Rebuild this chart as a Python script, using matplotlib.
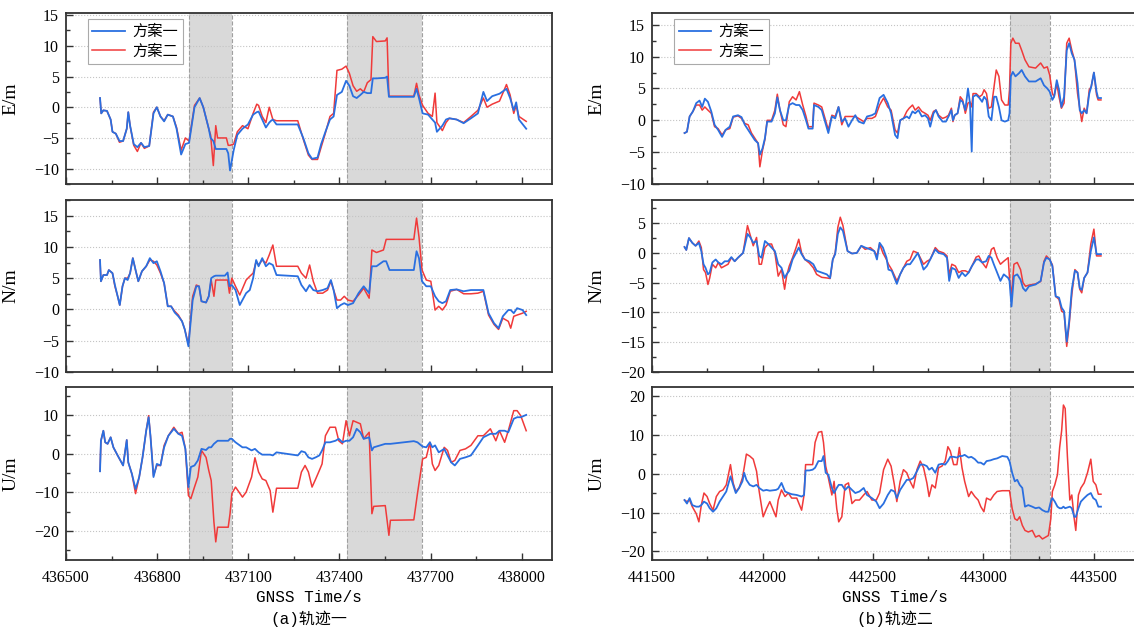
import numpy as np
import matplotlib
matplotlib.use("Agg")
import matplotlib.pyplot as plt
from matplotlib.ticker import MultipleLocator

plt.rcParams['font.family'] = ['Liberation Serif', 'Noto Sans CJK SC']

# ---------------- data: trajectory 1 ----------------
t1_E = [436612, 436616, 436623, 436635, 436647, 436653, 436664, 436676, 436688, 436700,
        436705, 436711, 436723, 436735, 436747, 436758, 436774, 436788, 436799, 436811,
        436823, 436835, 436852, 436864, 436879, 436893, 436905, 436923, 436940, 436952,
        436970, 436976, 436985, 436993, 436999, 437028, 437034, 437040, 437052, 437064,
        437081, 437099, 437116, 437128, 437134, 437146, 437158, 437169, 437175, 437181,
        437193, 437263, 437281, 437298, 437310, 437328, 437340, 437354, 437369, 437381,
        437392, 437408, 437422, 437433, 437445, 437457, 437469, 437480, 437492, 437504,
        437510, 437522, 437551, 437557, 437563, 437645, 437654, 437662, 437674, 437692,
        437706, 437715, 437721, 437739, 437751, 437762, 437786, 437809, 437833, 437856,
        437874, 437886, 437903, 437927, 437950, 437962, 437974, 437982, 437991, 438015]
e1_a = [1.5, -1.0, -0.5, -0.6, -2.0, -4.0, -4.3, -5.5, -5.5, -3.5,
        -0.8, -3.0, -6.0, -6.5, -5.8, -6.5, -6.3, -1.0, 0.0, -1.5,
        -2.3, -1.2, -1.5, -3.5, -7.7, -6.0, -5.8, 0.0, 1.5, 0.0,
        -3.5, -5.0, -5.5, -6.8, -6.8, -6.8, -7.5, -10.3, -7.0, -4.5,
        -3.5, -2.8, -1.2, -0.8, -0.7, -2.0, -3.3, -2.5, -2.2, -2.0,
        -2.8, -2.8, -5.0, -7.5, -8.4, -8.2, -6.0, -4.0, -2.0, -1.5,
        2.0, 2.5, 4.3, 3.5, 1.8, 1.5, 2.0, 2.5, 2.3, 2.3,
        4.7, 4.7, 4.8, 5.0, 1.7, 1.7, 3.0, 1.5, -1.0, -1.2,
        -2.0, -2.5, -4.0, -3.0, -2.0, -1.8, -2.0, -2.6, -1.8, -1.0,
        2.5, 1.0, 1.8, 2.2, 3.0, 1.5, -0.5, 0.8, -2.0, -3.5]
e1_b = [1.5, -1.0, -0.5, -0.6, -2.0, -4.0, -4.3, -5.7, -5.5, -3.5,
        -0.8, -3.0, -6.2, -7.2, -5.8, -6.7, -6.3, -0.8, 0.0, -1.5,
        -2.2, -1.2, -1.5, -3.3, -7.0, -5.0, -5.5, 0.3, 1.5, 0.0,
        -3.5, -4.5, -9.5, -3.0, -5.0, -5.0, -6.2, -6.2, -6.0, -4.0,
        -3.0, -3.5, -1.0, 0.5, 0.3, -1.5, -2.5, 0.0, -1.0, -2.0,
        -2.2, -2.2, -5.2, -7.8, -8.5, -8.5, -6.5, -4.2, -1.5, -1.0,
        6.0, 6.2, 6.7, 5.5, 3.5, 2.6, 3.0, 2.5, 4.0, 4.5,
        11.5, 10.7, 10.8, 11.3, 1.8, 1.8, 3.9, 2.0, 0.3, -1.0,
        -1.5, 2.3, -2.5, -3.8, -2.5, -1.8, -2.0, -2.5, -1.5, -0.5,
        1.5, 0.0, 0.5, 1.0, 3.7, 2.0, -1.0, 0.3, -1.5, -2.3]

t1_N = [436612, 436615, 436623, 436635, 436641, 436653, 436661, 436670, 436677, 436686,
        436694, 436703, 436711, 436720, 436729, 436738, 436750, 436764, 436776, 436788,
        436799, 436811, 436823, 436835, 436846, 436858, 436870, 436882, 436891, 436903,
        436909, 436917, 436929, 436938, 436946, 436961, 436970, 436978, 436987, 436993,
        437023, 437032, 437038, 437046, 437058, 437072, 437093, 437105, 437116, 437126,
        437134, 437146, 437158, 437169, 437181, 437193, 437263, 437275, 437290, 437302,
        437314, 437328, 437345, 437361, 437372, 437381, 437392, 437404, 437416, 437428,
        437445, 437463, 437480, 437498, 437507, 437522, 437545, 437554, 437565, 437645,
        437654, 437662, 437672, 437686, 437701, 437715, 437727, 437739, 437751, 437765,
        437786, 437809, 437833, 437856, 437874, 437891, 437909, 437924, 437938, 437956,
        437964, 437974, 437985, 438003, 438015]
n1_a = [7.9, 4.5, 5.5, 5.5, 6.3, 5.8, 3.9, 2.1, 0.7, 3.7,
        5.0, 4.7, 5.8, 8.2, 6.3, 4.5, 6.1, 6.9, 8.2, 7.4,
        7.7, 6.1, 4.2, 0.5, 0.5, -0.5, -1.1, -1.9, -3.2, -5.9,
        -2.7, 1.5, 3.7, 3.7, 1.3, 1.1, 2.1, 5.0, 5.3, 5.4,
        5.4, 5.9, 3.7, 3.9, 3.1, 0.7, 2.6, 3.1, 5.0, 7.9,
        6.9, 8.2, 6.9, 7.4, 7.1, 5.5, 5.3, 3.9, 2.9, 3.9,
        3.1, 2.9, 3.1, 3.4, 4.7, 3.1, 0.2, 0.7, 1.0, 0.7,
        1.0, 2.6, 3.7, 2.6, 6.9, 6.9, 7.7, 7.7, 6.3, 6.3,
        9.3, 8.2, 4.5, 3.7, 3.7, 2.1, 1.3, 1.0, 1.3, 3.1,
        3.2, 2.9, 3.1, 3.1, 3.1, -0.6, -2.2, -3.0, -1.1, -0.1,
        -0.1, -0.6, 0.2, -0.1, -0.9]
n1_b = [7.9, 4.5, 5.5, 5.5, 6.3, 5.8, 3.7, 2.1, 0.7, 3.7,
        5.0, 5.0, 5.8, 8.2, 6.3, 4.5, 6.1, 6.9, 7.9, 7.7,
        7.1, 5.8, 4.2, 0.5, 0.5, -0.3, -0.9, -1.9, -3.2, -5.6,
        -2.2, 2.1, 3.9, 3.7, 1.3, 1.1, 2.1, 4.7, 2.1, 4.7,
        4.7, 4.7, 2.6, 5.0, 3.7, 2.3, 4.7, 5.3, 5.8, 7.7,
        7.1, 7.9, 7.4, 8.7, 10.3, 6.9, 6.9, 5.8, 5.0, 7.1,
        4.5, 2.6, 2.6, 3.1, 4.5, 3.1, 1.5, 1.5, 2.1, 1.5,
        1.3, 2.3, 3.4, 1.8, 9.5, 9.1, 9.5, 11.2, 11.2, 11.2,
        14.6, 11.6, 6.3, 4.7, 4.5, -0.1, 0.5, -0.1, 0.7, 2.9,
        3.2, 2.5, 2.5, 2.6, 2.9, -0.9, -2.4, -3.2, -1.4, -1.9,
        -3.0, -1.1, -0.9, -0.6, -0.3]

t1_U = [436612, 436615, 436623, 436629, 436637, 436647, 436656, 436670, 436688, 436700,
        436705, 436717, 436729, 436741, 436752, 436764, 436772, 436778, 436788, 436799,
        436811, 436823, 436837, 436855, 436870, 436882, 436893, 436903, 436911, 436923,
        436934, 436946, 436961, 436970, 436978, 436987, 436993, 436999, 437034, 437040,
        437046, 437058, 437081, 437093, 437111, 437122, 437134, 437146, 437158, 437172,
        437181, 437193, 437263, 437275, 437287, 437298, 437310, 437322, 437334, 437343,
        437354, 437369, 437387, 437398, 437410, 437422, 437433, 437445, 437457, 437469,
        437480, 437498, 437507, 437513, 437551, 437557, 437563, 437568, 437645, 437657,
        437674, 437686, 437698, 437706, 437715, 437727, 437745, 437756, 437768, 437780,
        437797, 437815, 437833, 437856, 437874, 437897, 437915, 437927, 437944, 437956,
        437974, 437985, 437997, 438015]
u1_a = [-4.5, 3.4, 6.0, 3.0, 2.6, 4.3, 1.7, -0.4, -3.0, 3.6,
        -2.2, -5.2, -9.1, -6.0, -0.9, 6.0, 9.5, 4.7, -6.0, -2.6,
        -3.0, 1.7, 4.7, 6.5, 5.2, 4.7, 1.3, -8.6, -3.4, -3.0,
        -1.7, 1.3, 1.0, 1.7, 1.7, 2.6, 3.0, 3.4, 3.4, 3.9,
        3.9, 3.0, 1.7, 1.7, 0.9, 1.3, 0.4, -0.2, -0.2, -0.2,
        -0.4, 0.4, -0.4, 0.7, 0.4, -0.9, -1.3, -0.9, -0.4, 0.9,
        3.0, 3.0, 3.4, 3.9, 3.0, 3.4, 3.4, 4.3, 6.5, 5.6,
        3.9, 4.3, 0.9, 1.7, 2.6, 2.6, 2.6, 2.6, 3.3, 3.0,
        1.9, 1.7, 3.0, 1.7, 2.2, 0.4, 1.3, -0.4, -2.2, -3.0,
        -1.3, -0.9, -0.4, 2.2, 4.3, 5.2, 5.2, 6.0, 6.0, 5.6,
        9.1, 9.5, 9.5, 10.1]
u1_b = [-4.5, 3.4, 6.0, 3.0, 2.6, 4.3, 1.7, -0.4, -3.0, 3.6,
        -2.2, -5.2, -10.3, -6.0, -0.9, 6.0, 9.9, 4.7, -5.6, -3.0,
        -3.0, 2.2, 4.7, 6.9, 5.2, 5.6, 1.3, -10.8, -11.6, -8.6,
        -6.0, 0.9, -0.9, -4.3, -6.9, -17.7, -22.8, -19.0, -19.0, -15.5,
        -10.3, -8.6, -11.2, -9.9, -6.0, -1.0, -4.7, -6.5, -6.9, -9.5,
        -15.1, -8.9, -8.9, -4.7, -3.0, -4.7, -8.6, -6.5, -4.3, -2.6,
        4.7, 6.9, 6.9, 3.4, 2.6, 8.6, 4.7, 8.6, 8.2, 7.8,
        3.9, 5.6, -15.5, -13.6, -13.4, -17.2, -21.1, -17.2, -17.1, -10.3,
        -1.3, -0.9, 3.0, -2.6, -4.3, -3.0, 1.7, 0.9, -2.2, -1.7,
        0.9, 1.3, 2.2, 4.7, 4.7, 6.5, 3.4, 6.0, 3.0, 6.0,
        11.2, 11.2, 9.9, 6.0]

# ---------------- data: trajectory 2 ----------------
t2_E = [441647, 441658, 441670, 441685, 441700, 441715, 441727, 441739, 441753, 441768,
        441783, 441799, 441817, 441833, 441852, 441867, 441889, 441905, 441920, 441935,
        441950, 441965, 441980, 441988, 442000, 442011, 442021, 442041, 442056, 442067,
        442079, 442094, 442106, 442121, 442136, 442152, 442167, 442182, 442197, 442208,
        442227, 442233, 442253, 442268, 442283, 442298, 442314, 442329, 442344, 442359,
        442374, 442389, 442405, 442420, 442435, 442458, 442473, 442495, 442511, 442530,
        442548, 442567, 442582, 442600, 442611, 442623, 442638, 442653, 442664, 442679,
        442691, 442706, 442721, 442736, 442749, 442759, 442774, 442785, 442797, 442815,
        442830, 442842, 442855, 442862, 442870, 442883, 442895, 442906, 442918, 442930,
        442939, 442947, 442953, 442967, 442982, 442994, 443003, 443014, 443024, 443036,
        443048, 443058, 443070, 443082, 443097, 443112, 443118, 443124, 443133, 443145,
        443161, 443173, 443188, 443206, 443236, 443259, 443274, 443289, 443300, 443312,
        443320, 443332, 443342, 443353, 443365, 443377, 443388, 443400, 443412, 443426,
        443436, 443445, 443456, 443467, 443479, 443488, 443500, 443512, 443519, 443532]
e2_a = [-2.0, -1.8, 0.6, 1.4, 2.7, 3.1, 2.1, 3.4, 2.9, 1.4,
        -0.7, -1.5, -2.6, -1.5, -1.0, 0.6, 0.8, 0.5, -0.7, -1.5,
        -2.3, -3.1, -3.6, -5.4, -4.4, -2.8, -0.2, -0.2, 1.1, 3.6,
        1.6, 0.0, 0.0, 2.4, 2.7, 2.4, 2.4, 1.6, 0.0, -1.3,
        -1.3, 2.4, 2.1, 1.6, -0.2, -2.0, 0.6, 0.3, 2.1, -0.2,
        0.3, -1.0, 0.0, 0.8, -0.2, -0.5, 0.6, 0.8, 1.1, 3.5,
        4.0, 2.7, 1.1, -2.3, -2.8, 0.0, 0.3, 0.6, 0.3, 1.4,
        1.1, 1.6, 0.6, 0.8, 0.3, -1.0, 1.1, 1.6, 0.6, -0.2,
        -0.2, 0.6, 1.6, 0.0, 0.8, 1.1, 3.2, 2.9, 1.6, 5.0,
        2.7, -4.9, 3.7, 4.0, 3.5, 2.9, 3.7, 3.2, 0.6, 0.0,
        3.7, 3.7, 2.1, 0.0, -0.2, 0.0, 1.1, 6.9, 7.6, 6.9,
        7.4, 7.9, 6.9, 6.1, 6.1, 6.6, 5.5, 5.0, 4.5, 3.2,
        3.7, 6.3, 4.8, 2.1, 3.7, 11.0, 12.1, 10.5, 9.5, 5.8,
        1.6, 1.1, 1.6, 1.1, 4.2, 5.3, 7.5, 4.5, 3.5, 3.5]
e2_b = [-2.0, -1.8, 0.6, 1.4, 2.4, 2.4, 1.6, 2.1, 1.6, 1.1,
        -1.0, -1.3, -2.3, -1.5, -1.3, 0.5, 0.7, 0.3, -0.5, -0.7,
        -2.0, -2.8, -3.6, -7.3, -4.7, -3.0, 0.0, 0.0, 1.6, 4.1,
        1.6, -0.7, -1.0, 2.9, 3.7, 3.2, 4.5, 2.4, 0.6, -1.0,
        -1.0, 2.7, 2.4, 2.1, 0.3, -1.5, 0.8, 0.6, 2.1, -0.7,
        0.6, 0.6, 0.6, 0.6, 0.3, -0.2, 0.3, 0.3, 0.6, 2.4,
        3.5, 2.1, 1.6, -1.5, -2.0, 0.0, 0.3, 1.4, 1.9, 2.4,
        1.6, 2.1, 1.4, 1.1, 0.8, 0.0, 1.4, 1.6, 0.8, 0.3,
        0.5, 0.8, 1.9, -0.2, 0.8, 1.1, 3.7, 3.2, 1.1, 2.7,
        2.9, 2.1, 4.2, 4.2, 3.7, 4.0, 4.8, 4.2, 1.9, 2.1,
        5.3, 7.9, 6.9, 3.2, 2.4, 2.4, 4.8, 12.1, 12.9, 12.1,
        12.1, 11.0, 9.5, 8.4, 8.2, 9.0, 8.2, 8.4, 7.1, 4.2,
        3.7, 5.8, 3.7, 1.9, 2.7, 12.1, 12.9, 11.0, 9.5, 4.2,
        1.9, -0.2, 1.9, 1.1, 4.8, 5.3, 7.5, 4.0, 3.2, 3.2]

t2_N = [441647, 441655, 441667, 441682, 441697, 441712, 441723, 441733, 441742, 441753,
        441761, 441773, 441788, 441800, 441814, 441829, 441844, 441859, 441874, 441889,
        441912, 441932, 441945, 441958, 441973, 441985, 441995, 442011, 442026, 442041,
        442056, 442071, 442086, 442100, 442109, 442121, 442136, 442152, 442164, 442177,
        442192, 442212, 442230, 442245, 442268, 442291, 442306, 442318, 442329, 442341,
        442352, 442364, 442385, 442405, 442427, 442447, 442465, 442488, 442506, 442518,
        442530, 442545, 442561, 442570, 442585, 442608, 442623, 442638, 442653, 442668,
        442683, 442703, 442714, 442729, 442744, 442759, 442782, 442797, 442820, 442835,
        442845, 442857, 442873, 442888, 442903, 442918, 442933, 442948, 442967, 442979,
        442994, 443012, 443024, 443036, 443047, 443062, 443077, 443092, 443112, 443118,
        443127, 443138, 443153, 443168, 443179, 443191, 443206, 443236, 443259, 443274,
        443285, 443300, 443312, 443327, 443342, 443354, 443365, 443377, 443388, 443400,
        443414, 443426, 443436, 443445, 443456, 443471, 443486, 443500, 443512, 443532]
n2_a = [1.0, 0.5, 2.5, 1.7, 1.2, 1.7, 0.3, -1.9, -2.5, -3.6,
        -3.3, -1.6, -1.1, -1.6, -1.9, -1.4, -1.4, -0.7, -1.4, -0.8,
        0.0, 3.2, 2.6, 1.7, 2.0, -0.5, -0.8, 2.0, 1.5, 0.9,
        0.3, -1.9, -2.5, -4.2, -3.6, -3.0, -1.1, 0.0, 0.9, -0.2,
        -1.1, -1.4, -1.9, -3.0, -3.3, -3.6, -4.2, -1.1, -0.2, 3.2,
        4.3, 3.7, 0.3, -0.1, 0.0, 1.2, 0.9, 0.6, 0.3, -1.1,
        1.7, 0.9, -0.8, -2.8, -3.0, -5.2, -3.6, -2.5, -1.9, -1.9,
        -1.1, 0.0, -1.1, -2.8, -2.2, -1.1, 0.6, 0.0, -0.2, -0.8,
        -4.7, -2.5, -2.8, -4.2, -3.3, -3.9, -3.3, -2.2, -1.1, -1.1,
        -1.6, -1.4, -0.5, -0.8, -1.9, -3.3, -4.7, -3.6, -4.2, -4.7,
        -9.0, -3.9, -3.6, -4.5, -5.9, -6.4, -5.6, -5.3, -4.7, -1.6,
        -0.8, -1.1, -2.2, -7.3, -7.5, -9.2, -9.8, -14.9, -11.5, -6.1,
        -3.0, -3.3, -5.9, -6.2, -4.2, -3.3, 0.3, 2.6, -0.2, -0.2]
n2_b = [1.0, 0.5, 2.5, 1.7, 1.2, 2.0, 0.9, -2.8, -3.3, -5.3,
        -4.2, -1.9, -2.5, -1.6, -2.5, -2.2, -1.9, -0.8, -1.4, -0.8,
        0.0, 4.6, 2.9, 1.2, 2.6, -1.9, -1.9, 0.9, 1.5, 1.5,
        0.0, -3.9, -2.8, -6.1, -3.9, -2.2, -0.8, 0.9, 2.3, 0.0,
        -1.1, -1.7, -2.5, -3.6, -4.1, -4.2, -4.3, -1.1, 0.0, 4.3,
        6.0, 4.6, 0.3, -0.1, 0.0, 1.2, 0.6, 0.9, 0.3, -0.5,
        1.5, 0.0, -1.1, -1.9, -2.8, -4.7, -3.6, -2.5, -1.4, -1.1,
        0.3, 0.0, -0.8, -1.9, -1.4, -1.1, 0.9, 0.3, 0.0, -0.5,
        -3.6, -1.9, -2.2, -3.3, -3.0, -3.0, -3.3, -2.2, -0.7, -0.5,
        -1.6, -2.5, -1.1, 0.6, 0.9, -0.8, -1.9, -1.4, -0.8, -4.2,
        -7.3, -1.9, -1.6, -2.8, -5.0, -5.6, -5.4, -5.2, -4.8, -1.4,
        -0.5, -1.1, -2.0, -7.3, -7.8, -9.8, -10.0, -15.7, -12.1, -7.0,
        -2.8, -3.3, -6.1, -6.7, -4.2, -3.3, 1.5, 4.0, -0.5, -0.5]

t2_U = [441647, 441658, 441670, 441682, 441700, 441712, 441723, 441735, 441749, 441761,
        441776, 441791, 441806, 441821, 441836, 441855, 441867, 441879, 441894, 441909,
        441917, 441927, 441942, 441958, 441973, 441985, 442003, 442018, 442033, 442061,
        442071, 442086, 442102, 442117, 442132, 442155, 442177, 442188, 442195, 442212,
        442227, 442238, 442253, 442268, 442276, 442286, 442298, 442314, 442324, 442336,
        442345, 442359, 442374, 442389, 442405, 442420, 442439, 442458, 442473, 442495,
        442515, 442530, 442548, 442567, 442582, 442597, 442608, 442623, 442638, 442653,
        442668, 442683, 442699, 442714, 442729, 442744, 442754, 442767, 442782, 442797,
        442812, 442827, 442839, 442850, 442865, 442880, 442891, 442903, 442915, 442933,
        442945, 442961, 442976, 442988, 443002, 443014, 443032, 443047, 443062, 443085,
        443108, 443118, 443130, 443142, 443153, 443164, 443176, 443188, 443203, 443221,
        443236, 443252, 443267, 443282, 443294, 443305, 443312, 443323, 443335, 443345,
        443354, 443362, 443370, 443380, 443391, 443400, 443411, 443418, 443430, 443441,
        443456, 443471, 443486, 443497, 443509, 443520, 443532]
u2_a = [-6.8, -7.7, -6.3, -8.1, -8.5, -8.5, -8.1, -7.2, -7.7, -8.9,
        -9.8, -8.9, -7.2, -5.9, -4.6, -0.7, -2.9, -5.0, -3.7, -2.0,
        0.2, -1.6, -2.9, -3.3, -2.9, -3.7, -4.4, -4.2, -4.4, -4.2,
        -3.9, -2.4, -4.6, -5.0, -5.3, -5.5, -5.9, -5.5, 0.8, 0.8,
        1.0, 1.5, 3.2, 3.2, 4.5, 0.2, -0.3, -3.7, -5.0, -3.7,
        -2.9, -2.9, -4.2, -3.3, -4.2, -5.0, -4.6, -3.7, -5.5, -6.3,
        -7.2, -8.9, -7.7, -5.5, -4.2, -4.6, -6.3, -4.2, -2.9, -1.6,
        -1.6, -1.1, 0.6, 2.3, 2.3, 1.9, 1.0, 1.5, 0.2, 2.3,
        2.5, 2.3, 3.2, 4.3, 4.3, 4.1, 4.5, 4.5, 4.8, 4.1,
        4.3, 3.7, 2.8, 2.8, 2.3, 3.2, 3.4, 3.7, 3.9, 4.5,
        4.3, 3.2, 0.2, -2.0, -1.6, -2.9, -3.7, -8.5, -8.1, -8.5,
        -8.9, -8.7, -9.4, -9.8, -9.8, -7.2, -6.3, -7.2, -8.5, -8.9,
        -8.9, -8.5, -8.9, -8.7, -8.5, -8.9, -11.1, -11.1, -8.9, -7.2,
        -6.3, -5.5, -5.0, -6.3, -6.8, -8.5, -8.5]
u2_b = [-6.8, -7.2, -6.8, -8.5, -10.3, -12.4, -8.1, -5.0, -5.9, -7.7,
        -9.4, -5.9, -4.6, -4.2, -2.9, 2.3, -2.4, -4.6, -3.7, -1.1,
        1.5, 5.0, 4.5, 3.7, 0.6, -4.6, -11.1, -9.0, -7.2, -11.1,
        -6.8, -4.2, -5.9, -5.0, -6.3, -6.3, -9.4, -5.5, 2.3, 2.3,
        2.3, 8.0, 10.6, 10.8, 8.0, 1.9, -1.1, -5.5, -2.0, -9.0,
        -12.4, -11.1, -2.9, -2.4, -7.7, -6.8, -6.8, -5.5, -4.6, -6.8,
        -6.8, -5.0, 1.0, 3.7, 1.9, -2.9, -7.2, -2.0, 1.0, 0.2,
        -2.0, -3.7, 1.0, 3.2, 1.5, -2.4, -5.9, -2.9, -3.7, 1.5,
        1.9, 3.2, 6.9, 5.8, 2.3, 2.3, 6.7, 1.5, -2.0, -5.9,
        -4.6, -5.9, -6.8, -8.5, -9.8, -6.3, -6.8, -5.5, -4.6, -4.4,
        -4.4, -4.4, -9.0, -11.6, -12.0, -11.1, -13.3, -14.6, -15.0, -14.6,
        -16.3, -15.9, -16.8, -16.3, -15.9, -11.6, -4.6, -2.9, -0.3, 6.7,
        11.0, 17.6, 16.7, 4.5, -6.8, -5.5, -11.6, -14.6, -5.5, -3.7,
        -2.4, 0.2, 3.7, -2.0, -2.9, -5.3, -5.3]

# shaded periods
spans1 = [(436905, 437046), (437425, 437673)]
spans2 = [(443120, 443300)]

labels = ['方案一', '方案二']
c_a = '#2a6fe0'
c_b = '#f03a3a'

fig = plt.figure(figsize=(11.34, 6.31), dpi=100)

lefts = [0.0582, 0.575]
bottoms = [0.7084, 0.4105, 0.1125]
w = 0.4286
hs = [0.2715, 0.2726, 0.274]

cols = [
    dict(xlim=(436500, 438100), major=300, minor=150, spans=spans1,
         caption='(a)轨迹一',
         rows=[(t1_E, e1_a, e1_b, 'E/m', (-12.5, 15.4), 5),
               (t1_N, n1_a, n1_b, 'N/m', (-10, 17.5), 5),
               (t1_U, u1_a, u1_b, 'U/m', (-27.5, 17.3), 10)]),
    dict(xlim=(441500, 443700), major=500, minor=250, spans=spans2,
         caption='(b)轨迹二',
         rows=[(t2_E, e2_a, e2_b, 'E/m', (-10, 16.9), 5),
               (t2_N, n2_a, n2_b, 'N/m', (-20, 8.9), 5),
               (t2_U, u2_a, u2_b, 'U/m', (-22.2, 22.2), 10)]),
]

for ci, col in enumerate(cols):
    for ri, (t, ya, yb, lab, ylim, step) in enumerate(col['rows']):
        ax = fig.add_axes([lefts[ci], bottoms[ri], w, hs[ri]])
        for s0, s1 in col['spans']:
            ax.axvspan(s0, s1, color='#d9d9d9', lw=0, zorder=0)
            ax.axvline(s0, color='#a0a0a0', lw=0.8, ls='--', zorder=0.5)
            ax.axvline(s1, color='#a0a0a0', lw=0.8, ls='--', zorder=0.5)
        lb, = ax.plot(t, yb, color=c_b, lw=1.1, zorder=2)
        la, = ax.plot(t, ya, color=c_a, lw=1.3, zorder=3)
        ax.set_xlim(*col['xlim'])
        ax.set_ylim(*ylim)
        ax.xaxis.set_major_locator(MultipleLocator(col['major']))
        ax.xaxis.set_minor_locator(MultipleLocator(col['minor']))
        ax.yaxis.set_major_locator(MultipleLocator(step))
        ax.yaxis.set_minor_locator(MultipleLocator(step / 2))
        ax.grid(axis='y', which='major', ls=':', color='#c4c4c4', lw=0.8, zorder=1)
        ax.tick_params(which='both', direction='in', top=False, right=False,
                       labelsize=11.5, width=1.0, color='#333333')
        ax.tick_params(which='major', length=5)
        ax.tick_params(which='minor', length=3)
        ax.tick_params(axis='y', pad=5)
        ax.tick_params(axis='x', pad=7)
        for sp in ax.spines.values():
            sp.set_linewidth(1.3)
            sp.set_color('#333333')
        ax.set_ylabel(lab, fontsize=14)
        ax.yaxis.set_label_coords(-0.095, 0.5)
        if ri < 2:
            ax.tick_params(axis='x', labelbottom=False)
        else:
            ax.set_xlabel('GNSS Time/s', fontsize=11.5, family='Liberation Mono', labelpad=3)
            ax.text(0.5, -0.34, col['caption'], transform=ax.transAxes,
                    ha='center', va='center', fontsize=11.5,
                    family=['Liberation Mono', 'Noto Sans CJK SC'])
        if ri == 0:
            leg = ax.legend([la, lb], labels, loc='upper left', bbox_to_anchor=(0.045, 0.965),
                            borderaxespad=0, fancybox=False, framealpha=1,
                            edgecolor='#aaaaaa', handlelength=2.1, handletextpad=0.5,
                            labelspacing=0.15, borderpad=0.3,
                            prop={'family': 'Noto Sans CJK SC', 'size': 11})
            leg.get_frame().set_linewidth(0.8)

fig.savefig('out.png', dpi=100)
